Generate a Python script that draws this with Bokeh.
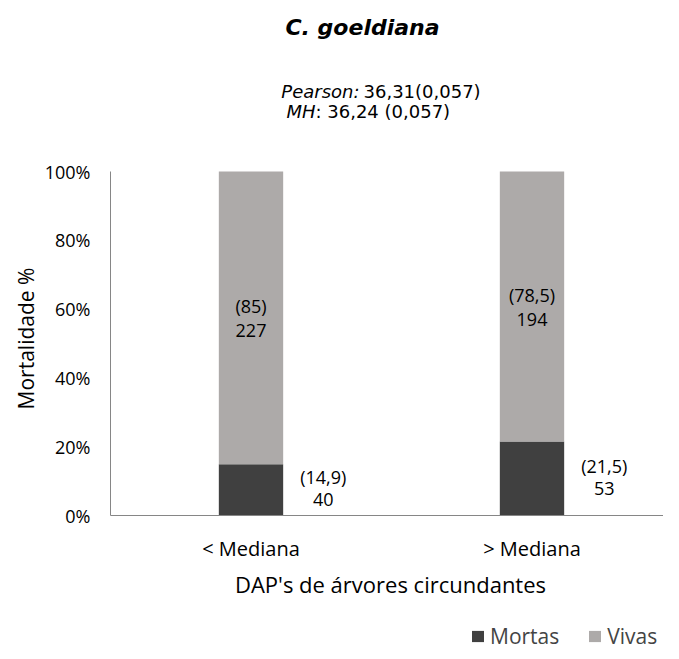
import math
from bokeh.plotting import figure
from bokeh.models import (ColumnDataSource, Range1d, Label, Legend, LegendItem,
                          FixedTicker, NumeralTickFormatter)
from bokeh.core.properties import value
from bokeh.embed import file_html
from bokeh.resources import INLINE

# ---- data ----
categories = ["< Mediana", "> Mediana"]
mortas_frac = [0.149, 0.215]
vivas_frac = [0.851, 0.785]
mortas_n = ["40", "53"]
vivas_n = ["227", "194"]
mortas_pct_lbl = ["(14,9)", "(21,5)"]
vivas_pct_lbl = ["(85)", "(78,5)"]
y_ticks = [0, 0.2, 0.4, 0.6, 0.8, 1.0]

title_txt = "C. goeldiana"
pearson_lbl = "Pearson:"
pearson_val = "36,31(0,057)"
mh_lbl = "MH"
mh_val = ": 36,24 (0,057)"
x_title = "DAP's de árvores circundantes"
y_title = "Mortalidade %"

DARK = "#404040"
LIGHT = "#ADAAA9"
AXIS = "#868686"
CAL = "Open Sans"
ARI = "DejaVu Sans"

# ---- layout geometry (pixels) ----
W, H = 663, 650
X0_PX, Y0_PX, Y1_PX = 110, 515, 171      # y-axis line, 0% line, 100% line
CAT_PX = 281                              # pixels per category slot
PX_PER_Y = Y0_PX - Y1_PX


def px2x(px):
    return (px - X0_PX) / CAT_PX


def px2y(py):
    return (Y0_PX - py) / PX_PER_Y


xpos = [i + 0.5 for i in range(len(categories))]
src = ColumnDataSource(dict(
    x=xpos,
    xr=[x + 0.257 for x in xpos],
    Mortas=mortas_frac,
    Vivas=vivas_frac,
    m_mid=[m / 2 for m in mortas_frac],
    v_mid=[m + v / 2 for m, v in zip(mortas_frac, vivas_frac)],
    m_n=mortas_n, v_n=vivas_n,
    m_p=mortas_pct_lbl, v_p=vivas_pct_lbl,
))

p = figure(x_range=Range1d(px2x(0), px2x(W)), y_range=Range1d(px2y(H), px2y(0)),
           width=W, height=H,
           min_border_left=0, min_border_right=0, min_border_top=0, min_border_bottom=0,
           output_backend="svg", toolbar_location=None)
p.outline_line_color = None
p.xgrid.grid_line_color = None
p.ygrid.grid_line_color = None
p.background_fill_color = "white"
p.border_fill_color = "white"

rs = p.vbar_stack(["Mortas", "Vivas"], x="x", width=0.229, source=src,
                  color=[DARK, LIGHT], line_color=None)

# axes placed at fixed data locations
xa = p.xaxis[0]
ya = p.yaxis[0]
xa.fixed_location = 0
ya.fixed_location = 0
xa.bounds = (0, len(categories))
ya.bounds = (0, 1)
ya.ticker = FixedTicker(ticks=y_ticks)
ya.formatter = NumeralTickFormatter(format="0%")
xa.ticker = FixedTicker(ticks=xpos)
xa.major_label_overrides = {x: c for x, c in zip(xpos, categories)}
for ax in (xa, ya):
    ax.axis_line_color = AXIS
    ax.major_tick_line_color = None
    ax.minor_tick_line_color = None
    ax.major_tick_out = 0
    ax.major_tick_in = 0
    ax.major_label_text_font = CAL
    ax.major_label_text_color = "#000000"
ya.major_label_text_font_size = "18px"
ya.major_label_standoff = 20
xa.major_label_text_font_size = "20px"
xa.major_label_standoff = 19

# data labels
lab_kw = dict(source=src, text_font=value(CAL), text_font_size="18px",
              text_align="center", text_baseline="middle", text_color="#000000")
p.text(x="x", y="v_mid", text="v_p", y_offset=-12, **lab_kw)
p.text(x="x", y="v_mid", text="v_n", y_offset=13, **lab_kw)
p.text(x="xr", y="m_mid", text="m_p", y_offset=-13, **lab_kw)
p.text(x="xr", y="m_mid", text="m_n", y_offset=10, **lab_kw)


def lab(px, py, text, **kw):
    base = dict(text_align="center", text_baseline="middle", text_color="#000000")
    base.update(kw)
    p.add_layout(Label(x=px2x(px), y=px2y(py), text=text, **base))


lab(362, 27, title_txt, text_font=ARI, text_font_size="22px", text_font_style="bold italic")
lab(359, 91, pearson_lbl, text_font=ARI, text_font_size="18px", text_font_style="italic",
    text_align="right")
lab(363, 91, pearson_val, text_font=ARI, text_font_size="18px", text_align="left")
lab(315, 111, mh_lbl, text_font=ARI, text_font_size="18px", text_font_style="italic",
    text_align="right")
lab(315, 111, mh_val, text_font=ARI, text_font_size="18px", text_align="left")
lab(390, 583, x_title, text_font=CAL, text_font_size="22px")
lab(25, 338, y_title, text_font=CAL, text_font_size="21px", angle=math.pi / 2)

legend = Legend(items=[LegendItem(label="Mortas", renderers=[rs[0]]),
                       LegendItem(label="Vivas", renderers=[rs[1]])],
                orientation="horizontal", location=(470, 0),
                glyph_width=15, glyph_height=14, label_standoff=5, spacing=28,
                padding=0, margin=0, border_line_color=None, background_fill_alpha=0,
                label_text_font=CAL, label_text_font_size="21px", label_height=14)
p.add_layout(legend, "center")

open("out.html", "w").write(file_html(p, INLINE))
